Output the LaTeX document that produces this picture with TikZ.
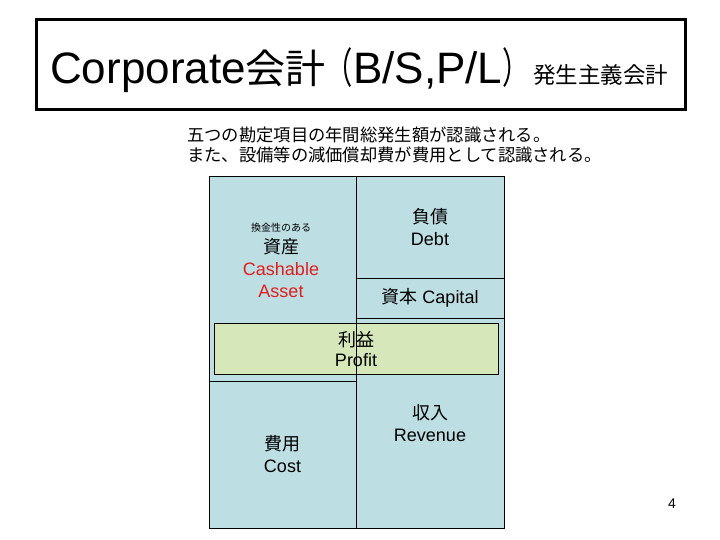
\documentclass[tikz,border=0pt]{standalone}
\usepackage{fontspec}
\setmainfont{Liberation Sans}
\newfontfamily\jp{Noto Sans CJK JP}
\usetikzlibrary{positioning}
\definecolor{bsblue}{RGB}{189,223,227}
\definecolor{plgreen}{RGB}{214,232,186}
\definecolor{assetred}{RGB}{225,30,30}
\tikzset{
  acct/.style={draw, fill=bsblue, line width=0.8pt, outer sep=0pt, inner sep=0pt, align=center, font=\fontsize{18}{22}\selectfont},
  pl/.style={acct, fill=plgreen},
  note/.style={align=left, inner sep=0pt, font=\jp\fontsize{17.3}{20}\selectfont},
  frame/.style={draw, line width=3pt, minimum width=649pt, minimum height=90pt, inner sep=0pt}
}
\newcommand{\jsz}[1]{\jp\fontsize{#1}{#1}\selectfont}
\newcommand{\tparen}[1]{\scalebox{0.65}[1]{\jsz{42}#1}}

\begin{document}
\begin{tikzpicture}[x=1pt, y=-1pt]
\useasboundingbox (0,0) rectangle (720,540);
\node[frame] (title) at (360.5,65) {};
\node[anchor=base west, inner sep=0pt] (heading) at (50,84) {\fontsize{44}{50}\selectfont Corporate{\jsz{40}会計}\tparen{（}B/S,P/L\tparen{）}};
\node[anchor=base west, inner sep=0pt, font=\jsz{22.5}] (basis) at ([xshift=3pt]heading.base east) {発生主義会計};
\node[note, anchor=west] (intro) at (187,145) {五つの勘定項目の年間総発生額が認識される。\\また、設備等の減価償却費が費用として認識される。};
% B/S and P/L blocks
\node[acct, minimum width=147pt, minimum height=205pt, anchor=north west] (asset) at (209,176) {};
\node[acct, minimum width=147pt, minimum height=147pt, below=0pt of asset] (cost) {{\jp 費用}\\Cost};
\node[acct, minimum width=148pt, minimum height=102pt, anchor=north west] (debt) at (asset.north east) {{\jp 負債}\\Debt};
\node[acct, minimum width=148pt, minimum height=40pt, below=0pt of debt] (capital) {{\jp 資本} Capital};
\node[acct, minimum width=148pt, minimum height=210pt, below=0pt of capital] (revenue) {{\jp 収入}\\Revenue};
\node[align=center, font=\fontsize{18}{22}\selectfont] (assetlbl) at (281,260) {{\jsz{10}換金性のある}\\{\jp 資産}\\\textcolor{assetred}{Cashable}\\\textcolor{assetred}{Asset}};
\node[pl, minimum width=284pt, minimum height=51pt, text depth=-3pt] (profit) at (356,348.5) {{\jp 利益}\\[-2pt]Profit};
\draw[line width=0.8pt] (revenue.north west) -- (revenue.south west);
\node[font=\fontsize{14}{16}\selectfont] (page) at (672,504) {4};
\end{tikzpicture}
\end{document}
